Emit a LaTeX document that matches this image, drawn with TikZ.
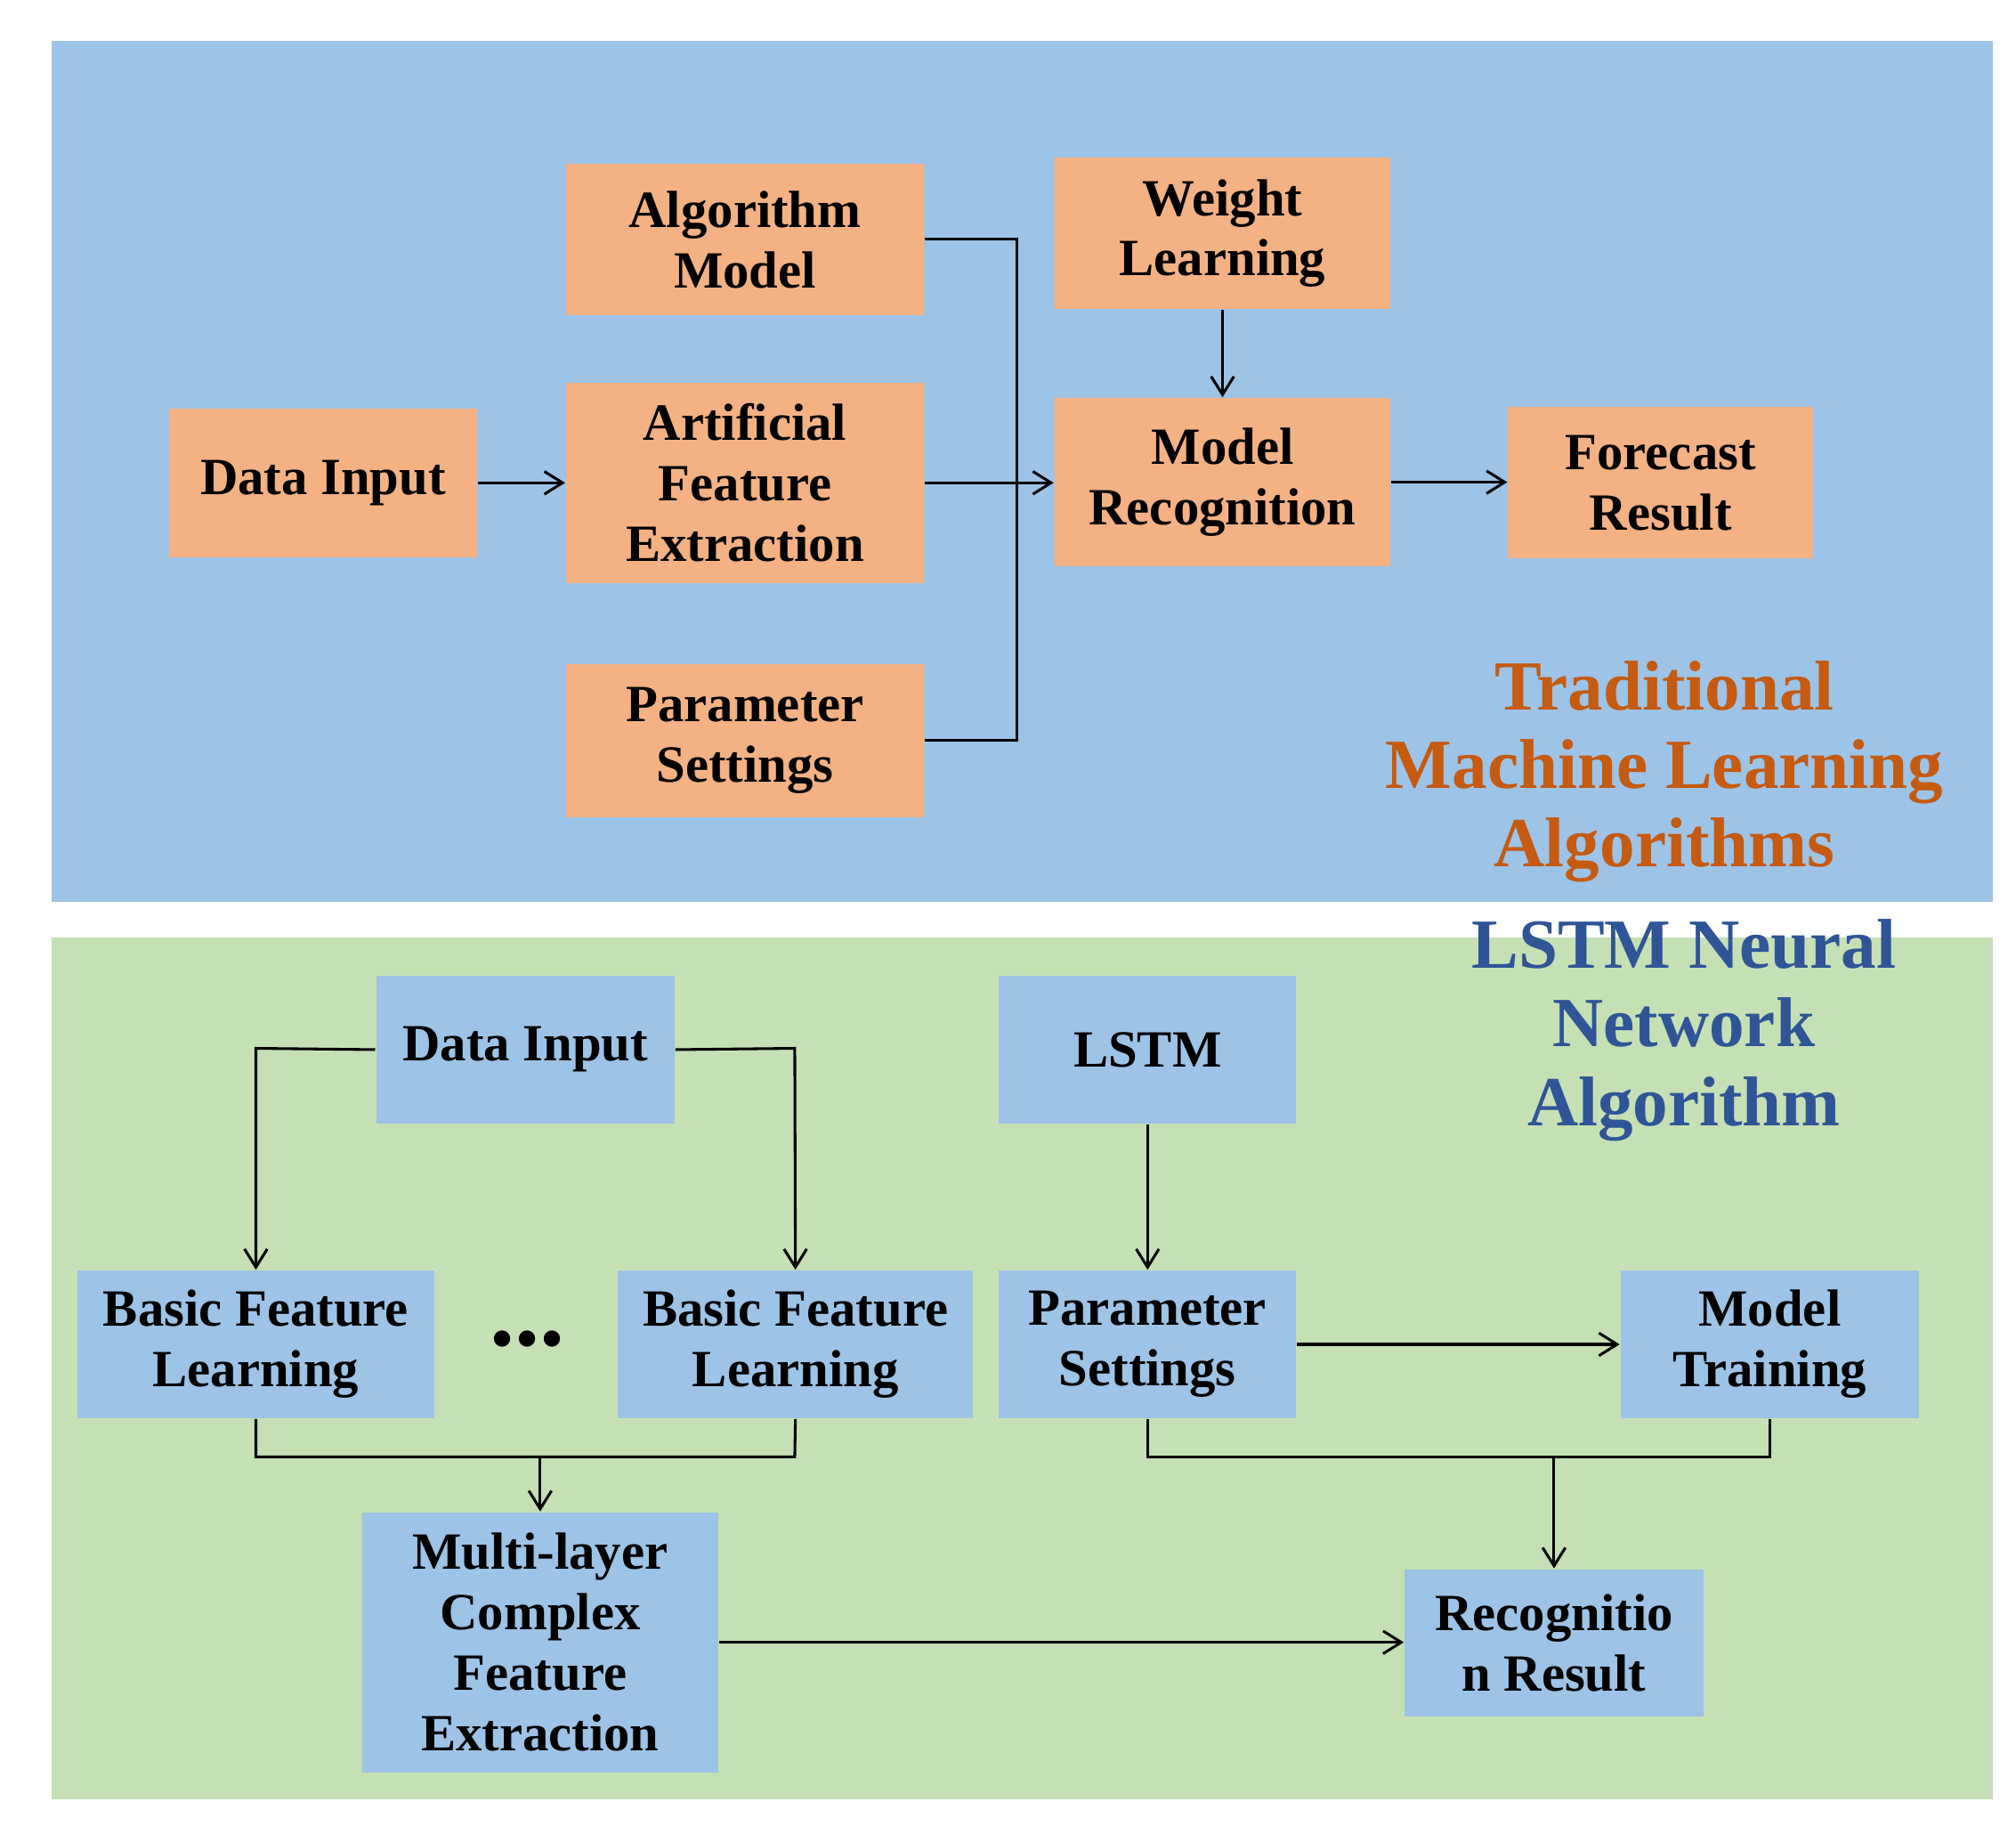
\documentclass[tikz,border=0pt]{standalone}
\usepackage{fontspec}
\setmainfont{Liberation Serif}
\usetikzlibrary{arrows.meta}
\definecolor{pblue}{HTML}{9DC3E6}
\definecolor{pgreen}{HTML}{C5E0B4}
\definecolor{porange}{HTML}{F4B183}
\definecolor{tor}{HTML}{C55A11}
\definecolor{tbl}{HTML}{2F5597}
\begin{document}
\begin{tikzpicture}[x=0.01cm,y=-0.01cm,
 box/.style={inner sep=0pt,align=center,font=\fontsize{11.5}{13.3}\selectfont\bfseries},
 sz/.style 2 args={minimum width=#1*0.01cm,minimum height=#2*0.01cm},
 ob/.style={box,fill=porange},
 bb/.style={box,fill=pblue},
 ttl/.style={align=center,font=\fontsize{15.5}{17.3}\selectfont\bfseries},
 ln/.style={line width=0.6pt},
 ar/.style={ln,-{Straight Barb[length=4pt,width=5pt]}}]
\useasboundingbox (0,0) rectangle (1560,1412);
\fill[pblue] (40,32) rectangle (1542,698);
\fill[pgreen] (40,725) rectangle (1542,1392);
% top
\node[ob,sz={238}{115}] (di) at (250,373.5) {Data Input};
\node[ob,sz={277}{117}] (am) at (576.5,185.5) {Algorithm\\Model};
\node[ob,sz={277}{155}] (afe) at (576.5,373.5) {Artificial\\Feature\\Extraction};
\node[ob,sz={277}{118}] (ps) at (576.5,573) {Parameter\\Settings};
\node[ob,sz={260}{117}] (wl) at (946,180.5) {Weight\\Learning};
\node[ob,sz={260}{130}] (mr) at (946,373) {Model\\Recognition};
\node[ob,sz={236}{117}] (fr) at (1285,373.5) {Forecast\\Result};
\node[ttl,text=tor] (t1) at (1288,597) {Traditional\\Machine Learning\\Algorithms};
\coordinate (j1) at (787,185);
\coordinate (j2) at (787,573);
\draw[ar] (di) -- (afe);
\draw[ln] (am.east |- j1) -- (j1) -- (j2) -- (ps.east |- j2);
\draw[ar] (afe.east) -- (mr.west |- afe.east);
\draw[ar] (wl) -- (mr);
\draw[ar] (mr) -- (fr.west |- mr);
% bottom
\node[bb,sz={231}{114}] (di2) at (406.5,812) {Data Input};
\node[bb,sz={230}{114}] (lstm) at (888,812) {LSTM};
\node[bb,sz={276}{114}] (b1) at (198,1040) {Basic Feature\\Learning};
\node[bb,sz={275}{114}] (b2) at (615.5,1040) {Basic Feature\\Learning};
\node[font=\fontsize{22}{22}\selectfont\bfseries] (dots) at (408,1036) {...};
\node[bb,sz={230}{114}] (ps2) at (888,1040) {Parameter\\Settings};
\node[bb,sz={231}{114}] (mt) at (1369.5,1040) {Model\\Training};
\node[bb,sz={276}{201}] (ml) at (418,1270.5) {Multi-layer\\Complex\\Feature\\Extraction};
\node[bb,sz={231}{114}] (rr) at (1202.5,1271) {Recognitio\\n Result};
\node[ttl,text=tbl] (t2) at (1303,797) {LSTM Neural\\Network\\Algorithm};
\coordinate (c1) at (198,811);
\coordinate (c2) at (615,811);
\draw[ar] (di2.west) -- (c1) -- (b1.north);
\draw[ar] (di2.east) -- (c2) -- (b2.north);
\coordinate (c3) at (198,1127);
\coordinate (c4) at (615,1127);
\coordinate (c5) at (418,1127);
\draw[ln] (b1.south) -- (c3) -- (c4) -- (b2.south);
\draw[ar] (c5) -- (ml.north);
\draw[ar] (lstm) -- (ps2);
\draw[ar] (ps2) -- (mt);
\coordinate (c6) at (888,1127);
\coordinate (c7) at (1369.5,1127);
\coordinate (c8) at (1202.5,1127);
\draw[ln] (ps2.south) -- (c6) -- (c7) -- (mt.south);
\draw[ar] (c8) -- (rr.north);
\draw[ar] (ml.east) -- (rr.west |- ml.east);
\end{tikzpicture}
\end{document}
